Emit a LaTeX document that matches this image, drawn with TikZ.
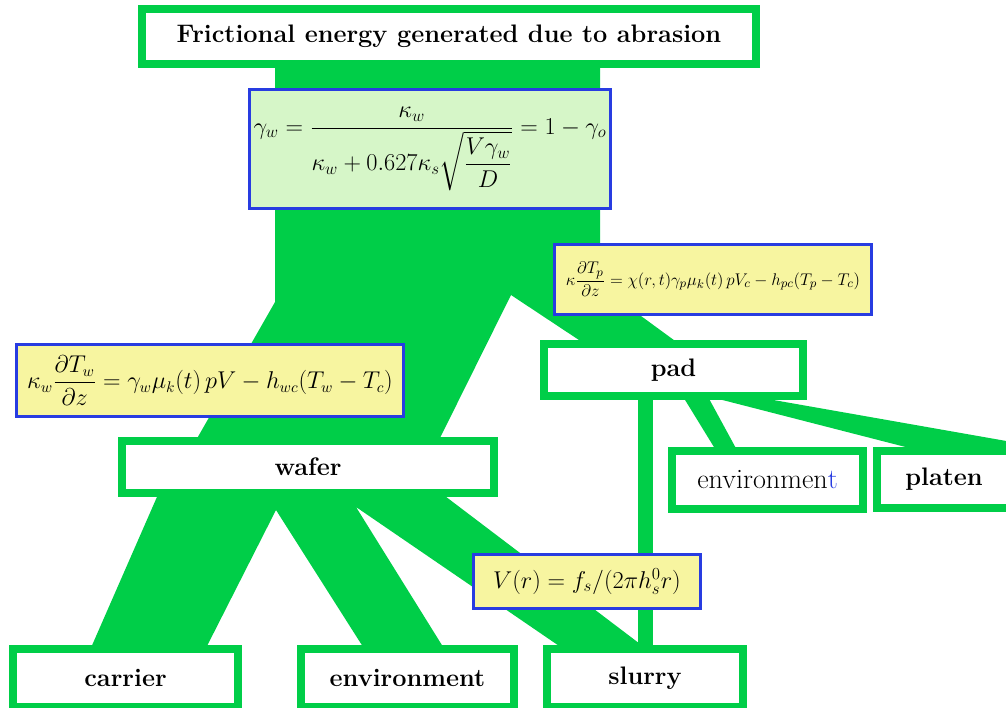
\documentclass[tikz,border=0pt]{standalone}
\usepackage{amsmath}
\usepackage{tikz}
\usetikzlibrary{calc}

\definecolor{flowgreen}{RGB}{0,206,72}
\definecolor{eqblue}{RGB}{40,60,225}
\definecolor{eqyellow}{RGB}{247,245,160}
\definecolor{eqgreen}{RGB}{214,246,200}

\newcommand{\labelfont}{\rmfamily\fontsize{18}{21}\selectfont\bfseries}

\tikzset{
    flowchart/.style={x=0.025cm, y=-0.025cm, font=\labelfont},
    box/.style={draw=flowgreen, line width=0.2cm, fill=white, inner sep=0pt},
    eqbox/.style={draw=eqblue, line width=0.075cm, fill=eqyellow, inner sep=0pt},
    flow/.style={fill=flowgreen},
    bar/.style={draw=flowgreen, line width=0.375cm},
}

\begin{document}
\begin{tikzpicture}[flowchart]
    \useasboundingbox (0,0) rectangle (1006,708);

    % energy flows (drawn under the boxes)
    \fill[flow] (275,60) -- (600,60) -- (600,286) -- (682,346) -- (588,346)
        -- (511,295) -- (438,442) -- (195,442) -- (275,302) -- cycle;
    \fill[flow] (160,490) -- (90,650) -- (205,650) -- (276,510) -- (365,650)
        -- (445,650) -- (356,507) -- (565,650) -- (648,650) -- (437,490) -- cycle;
    \fill[flow] (682,395) -- (707,395) -- (738,452) -- (717,452) -- cycle;
    \fill[flow] (703,395) -- (745,395) -- (1012,442) -- (1012,452) -- (925,452) -- cycle;

    \node[box, minimum width=15.35cm, minimum height=1.375cm] (title) at (449,36.5)
        {Frictional energy generated due to abrasion};
    \node[box, minimum width=6.475cm, minimum height=1.3cm] (pad) at (673.5,370) {pad};
    \node[box, minimum width=9.3cm, minimum height=1.3cm] (wafer) at (308,467) {wafer};
    \node[box, minimum width=4.775cm, minimum height=1.45cm,
        font=\rmfamily\fontsize{20}{24}\selectfont] (padenv) at (767.5,480)
        {\raisebox{-4pt}{environmen\textcolor{eqblue}{t}}};
    \node[box, minimum width=3.35cm, minimum height=1.425cm] (platen) at (944,479.5) {platen};
    \node[box, minimum width=5.625cm, minimum height=1.45cm] (carrier) at (125.5,678) {carrier};
    \node[box, minimum width=5.325cm, minimum height=1.45cm] (waferenv) at (407.5,678) {environment};
    \node[box, minimum width=4.9cm, minimum height=1.45cm] (slurry) at (645,678) {slurry};

    \draw[bar] (pad.south -| slurry.north) -- (slurry.north);

    % heat partition and boundary conditions
    \node[eqbox, fill=eqgreen, minimum width=9.025cm, minimum height=2.975cm,
        font=\fontsize{17}{20}\selectfont] (gamma) at (430,149)
        {$\gamma_w=\dfrac{\kappa_w}{\kappa_w+0.627\kappa_s\sqrt{\dfrac{V\gamma_w}{D}}}=1-\gamma_o$};
    \node[eqbox, minimum width=7.925cm, minimum height=1.75cm,
        font=\fontsize{13}{16}\selectfont] (padeq) at (713,279.5)
        {$\kappa\dfrac{\partial T_p}{\partial z}=\chi(r,t)\gamma_p\mu_k(t)\,pV_c-h_{pc}(T_p-T_c)$};
    \node[eqbox, minimum width=9.675cm, minimum height=1.8cm,
        font=\fontsize{16}{19}\selectfont] (wafereq) at (210,380.5)
        {$\kappa_w\dfrac{\partial T_w}{\partial z}=\gamma_w\mu_k(t)\,pV-h_{wc}(T_w-T_c)$};
    \node[eqbox, minimum width=5.675cm, minimum height=1.35cm,
        font=\fontsize{18}{21}\selectfont] (veq) at (587,581.5)
        {$V(r)=f_s/(2\pi h_s^0 r)$};
\end{tikzpicture}
\end{document}
